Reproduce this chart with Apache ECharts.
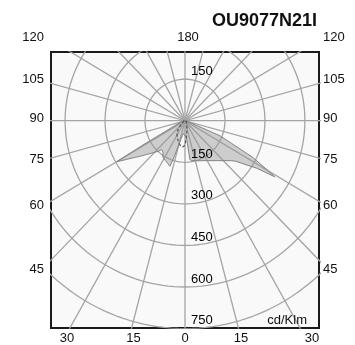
<!DOCTYPE html>
<html>
<head>
<meta charset="utf-8">
<script src="https://cdn.jsdelivr.net/npm/echarts@6/dist/echarts.min.js"></script>
<style>
html,body{margin:0;padding:0;background:#fff;}
#chart{width:355px;height:345px;}
</style>
</head>
<body>
<div id="chart"></div>
<script>
// ---- data (gamma in degrees from nadir, negative = C180 side, positive = C0 side) ----
const title = 'OU9077N21I';
const unitLabel = 'cd/Klm';
const gammaA = [-90,-85,-80,-75,-70,-67.5,-65,-62.5,-61,-60,-57.5,-55,-52.5,-50,-47.5,-45,-42.5,-40,-37.5,-35,-32.5,-30,-27.5,-25,-22.5,-20,-19,-17.5,-15,-12.5,-10,-7.5,-5,-2.5,0,2.5,5,7.5,10,15,20,25,30,35,40,45,50,52.5,55,57.5,59,60,62.5,65,67.5,70,75,80,85,90];
const intensityA = [3,5,8,12,20,30,45,80,180,296,260,231,210,190,175,161,150,136,138,143,155,158,161,164,168,172,174,140,88,66,54,47,48,52,55,55,60,142,146,149,154,159,166,176,188,204,224,240,275,318,393,358,287,192,142,25,12,8,5,3];
const gammaB = [-90,-75,-60,-45,-40,-35,-30,-25,-20,-15,-10,-5,0,5,10,15,20,30,45,60,75,90];
const intensityB = [3,6,12,25,40,52,60,68,76,85,92,95,88,60,40,28,20,12,8,5,3,2];
const ringValues = [150,300,450,600,750];
const rayStep = 15;
const sideLabels = ['120','105','90','75','60','45'];
const topLabel = '180';
const bottomLabels = ['30','15','0','15','30'];

// ---- layout ----
const FONT = "'Liberation Sans', Arial, sans-serif";
const sideY = [37.5, 79, 118.5, 159, 205, 269];
const bottomX = [67, 133.5, 185, 241, 312];

function toXY(g, r){ const a = g*Math.PI/180; return [r*Math.sin(a), -r*Math.cos(a)]; }

const series = [];
// rings
ringValues.forEach(v => {
  const pts = [];
  for (let d = 0; d <= 360; d += 2) pts.push(toXY(d, v));
  series.push({type:'line', data: pts, symbol:'none', silent:true, clip:true, z:1,
    lineStyle:{color:'#a4a4a4', width:1.3}});
});
// rays (diameters)
for (let d = 0; d < 180; d += rayStep) {
  series.push({type:'line', data:[toXY(d, 1500), toXY(d+180, 1500)], symbol:'none', silent:true, clip:true, z:1,
    lineStyle:{color:'#a4a4a4', width:1.3}});
}
// C0-C180 polygon
const polyA = gammaA.map((g,i) => toXY(g, intensityA[i]));
series.push({type:'custom', coordinateSystem:'cartesian2d', clip:true, z:3, silent:true,
  data:[[0,0]], encode:{x:0,y:1},
  renderItem: function(params, api){
    return {type:'polygon', shape:{points: polyA.map(p => api.coord(p))},
      style:{fill:'rgba(150,150,150,0.45)', stroke:'#848484', lineWidth:1}};
  }});
// C90-C270 dashed
series.push({type:'line', data: gammaB.map((g,i) => toXY(g, intensityB[i])), symbol:'none', silent:true, z:4,
  lineStyle:{color:'#555', width:1.2, type:[3,2]}});

const graphics = [];
graphics.push({type:'text', right: 38, top: 12, style:{text:title, font:"bold 18px " + FONT, fill:'#111'}});
sideLabels.forEach((t,i) => {
  graphics.push({type:'text', x:44, y:sideY[i], style:{text:t, font:"13px " + FONT, fill:'#111', textAlign:'right', textVerticalAlign:'middle'}});
  graphics.push({type:'text', x:323, y:sideY[i], style:{text:t, font:"13px " + FONT, fill:'#111', textAlign:'left', textVerticalAlign:'middle'}});
});
graphics.push({type:'text', x:188, y:37.5, style:{text:topLabel, font:"13px " + FONT, fill:'#111', textAlign:'center', textVerticalAlign:'middle'}});
bottomLabels.forEach((t,i) => {
  graphics.push({type:'text', x:bottomX[i], y:338.5, style:{text:t, font:"13px " + FONT, fill:'#111', textAlign:'center', textVerticalAlign:'middle'}});
});
graphics.push({type:'text', x:307, y:320.5, z:10, style:{text:unitLabel, font:"13px " + FONT, fill:'#111', textAlign:'right', textVerticalAlign:'middle'}});

const chart = echarts.init(document.getElementById('chart'), null, {renderer:'canvas'});
const option = {
  animation:false,
  backgroundColor:'#ffffff',
  grid:{left:51, top:52, width:268, height:276, show:true, backgroundColor:'#f9f9f9', borderColor:'#1a1a1a', borderWidth:2, z:0},
  xAxis:{type:'value', min:-503, max:503, show:false},
  yAxis:{type:'value', min:-748, max:248, show:false},
  graphic: graphics,
  series: series
};
chart.setOption(option);
// ring labels placed through the chart's scales
const ringPts = [[0, ringValues[0]]].concat(ringValues.map(v => [0, -v]));
ringPts.forEach(p => {
  const px = chart.convertToPixel({gridIndex:0}, p);
  graphics.push({type:'text', x:px[0] + 6, y:px[1] - 8, z:20,
    style:{text:String(Math.abs(p[1])), font:"13px " + FONT, fill:'#000', textAlign:'left', textVerticalAlign:'middle'}});
});
chart.setOption({graphic: graphics});
</script>
</body>
</html>
